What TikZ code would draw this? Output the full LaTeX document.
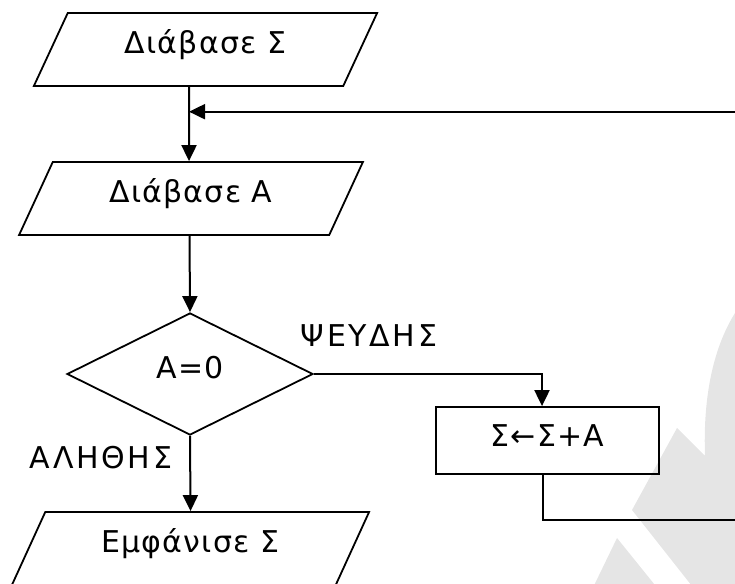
\documentclass[tikz,border=0pt]{standalone}
\usepackage{fontspec}
\setmainfont{DejaVu Sans}[LetterSpace=4]
\usetikzlibrary{shapes.geometric,arrows.meta}
\begin{document}
\begin{tikzpicture}[x=1pt,y=-1pt,
  txt/.style={font=\fontsize{30}{34}\selectfont, text height=21pt, text depth=0pt},
  io/.style={draw, line width=1.8pt, trapezium, trapezium stretches=true,
    minimum height=73pt, inner sep=0pt, txt},
  decision/.style={draw, line width=1.8pt, diamond, inner sep=0pt, txt},
  process/.style={draw, line width=1.8pt, rectangle, inner sep=0pt, txt},
  lbl/.style={inner sep=0pt, font=\fontsize{30}{34}\selectfont\addfontfeatures{LetterSpace=9},
    text height=21pt, text depth=0pt},
  flow/.style={line width=2pt, -{Triangle[length=16pt,width=15pt]}},
  thinflow/.style={line width=1.3pt},
  wmark/.style={fill=black!10, draw=none}]
\useasboundingbox (0,0) rectangle (735,583);
% watermark
\fill[wmark] (735,313) .. controls (712,350) and (703,400) .. (705,456)
  -- (677,428) -- (632,510) -- (703,600) -- (760,600) -- (760,313) -- cycle;
\fill[wmark] (617,538) -- (587,600) -- (667,600) -- cycle;
% nodes
\node[io, minimum width=344pt, trapezium left angle=46.6, trapezium right angle=133.4]
  (r1) at (205.5,49.5) {\raisebox{6pt}{Διάβασε Σ}};
\node[io, minimum width=344pt, trapezium left angle=46.6, trapezium right angle=133.4]
  (r2) at (191,198.5) {\raisebox{7pt}{Διάβασε Α}};
\node[decision, minimum width=246pt, minimum height=122pt]
  (dec) at (190,374) {\raisebox{6.5pt}{Α=0}};
\node[process, minimum width=223pt, minimum height=67pt]
  (upd) at (547.5,440.5) {\raisebox{4.5pt}{Σ←Σ+Α}};
\node[io, minimum width=358pt, trapezium left angle=45.8, trapezium right angle=134.2]
  (r3) at (190.5,548.5) {\raisebox{6.5pt}{Εμφάνισε Σ}};
\node[lbl] (no) at (369,336) {ΨΕΥΔΗΣ};
\node[lbl] (yes) at (101,457.5) {ΑΛΗΘΗΣ};
% helper coordinates
\coordinate (join) at (189,111.7);
\coordinate (loopout) at (760,520);
\coordinate (loopin) at (760,111.7);
% connectors
\draw[flow] ([xshift=-16.5pt]r1.south) -- ([xshift=-2pt]r2.north);
\draw[flow] (loopin) -- (join);
\draw[flow] ([xshift=-1.5pt]r2.south) -- (dec.north);
\draw[flow] (dec.east) -| ([xshift=-5.5pt]upd.north);
\draw[thinflow] ([xshift=-4.5pt]upd.south) |- (loopout);
\draw[flow] (dec.south) -- (r3.north);
\end{tikzpicture}
\end{document}
